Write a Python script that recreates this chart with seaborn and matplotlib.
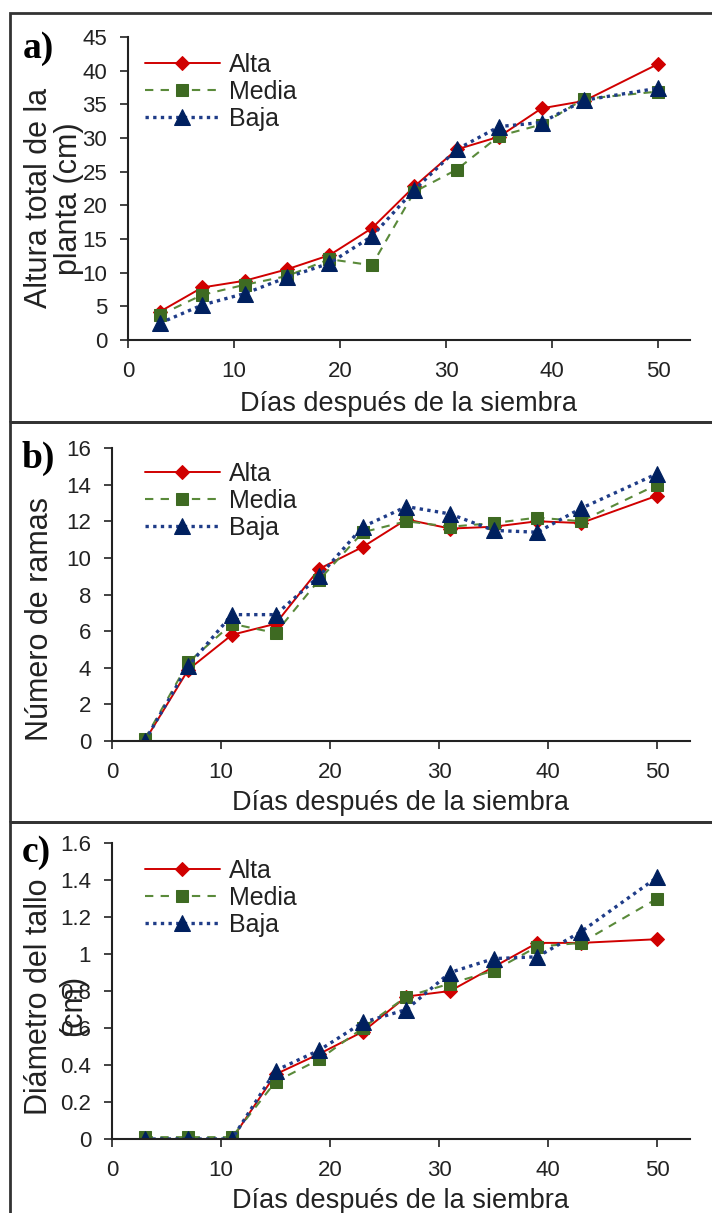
import matplotlib
matplotlib.use('Agg')
import matplotlib.pyplot as plt
import seaborn as sns
from matplotlib.patches import Rectangle
from matplotlib.ticker import FuncFormatter

# ---- data ----
dias = [3, 7, 11, 15, 19, 23, 27, 31, 35, 39, 43, 50]

# a) altura total de la planta (cm)
altura_alta = [4.2, 7.8, 8.8, 10.5, 12.6, 16.6, 22.8, 28.3, 30.2, 34.4, 35.5, 41.0]
altura_media = [3.7, 6.7, 8.2, 9.5, 12.0, 11.1, 22.0, 25.3, 30.3, 32.0, 35.8, 36.9]
altura_baja = [2.5, 5.2, 6.9, 9.3, 11.4, 15.4, 22.3, 28.3, 31.7, 32.3, 35.6, 37.4]

# b) numero de ramas
ramas_alta = [0.0, 3.9, 5.8, 6.4, 9.4, 10.6, 12.1, 11.6, 11.7, 12.0, 11.9, 13.4]
ramas_media = [0.1, 4.3, 6.4, 5.9, 8.8, 11.4, 12.0, 11.7, 11.9, 12.2, 12.0, 14.0]
ramas_baja = [0.0, 4.1, 6.9, 6.9, 9.0, 11.7, 12.8, 12.4, 11.5, 11.4, 12.7, 14.6]

# c) diametro del tallo (cm)
diam_alta = [0.0, 0.0, 0.0, 0.35, 0.46, 0.58, 0.77, 0.80, 0.93, 1.06, 1.06, 1.08]
diam_media = [0.01, 0.01, 0.01, 0.31, 0.43, 0.60, 0.77, 0.84, 0.91, 1.04, 1.06, 1.30]
diam_baja = [0.0, 0.0, 0.0, 0.37, 0.48, 0.63, 0.70, 0.90, 0.975, 0.985, 1.12, 1.415]

etiquetas = ['Alta', 'Media', 'Baja']
letras = ['a)', 'b)', 'c)']
# y labels are written line by line (the second line sits next to the tick labels)
ylabels = [['Altura total de la', 'planta (cm)'], ['Número de ramas'], ['Diámetro del tallo', '(cm)']]
xlabel = 'Días después de la siembra'
xticks = [0, 10, 20, 30, 40, 50]
yticks_a = [0, 5, 10, 15, 20, 25, 30, 35, 40, 45]
yticks_b = [0, 2, 4, 6, 8, 10, 12, 14, 16]
yticks_c = [0, 0.2, 0.4, 0.6, 0.8, 1.0, 1.2, 1.4, 1.6]

# ---- styles ----
sns.set_style('ticks')
narrow = ['Liberation Sans Narrow', 'Liberation Sans', 'DejaVu Sans']
plt.rcParams['font.family'] = ['Liberation Sans', 'DejaVu Sans']

estilos = {
  'Alta': dict(color='#D00000', marker='D', markersize=7.5, linestyle='-', linewidth=1.4,
               markerfacecolor='#D00000', markeredgecolor='#D00000'),
  'Media': dict(color='#5A8A3A', marker='s', markersize=8.5, linestyle=(0, (4, 3.5)), linewidth=1.5,
                markerfacecolor='#3E6A22', markeredgecolor='#3E6A22'),
  'Baja': dict(color='#1F3C88', marker='^', markersize=11, linestyle=(0, (1, 1.3)), linewidth=2.4,
               markerfacecolor='#00205F', markeredgecolor='#00205F'),
}

W, H = 712, 1213
fig = plt.figure(figsize=(W / 100, H / 100), dpi=100)

def frac(px_left, px_top, px_right, px_bottom):
  return [px_left / W, 1 - px_bottom / H, (px_right - px_left) / W, (px_bottom - px_top) / H]

paneles = [
  dict(box=frac(128, 37, 690, 340), datos=[altura_alta, altura_media, altura_baja], ylim=45,
       yticks=yticks_a, ylab_xy=[(39, 198), (69, 199)], letra_xy=(38, 48), xlab_y=-0.168, leg_y=0.948),
  dict(box=frac(112, 448, 690, 741), datos=[ramas_alta, ramas_media, ramas_baja], ylim=16,
       yticks=yticks_b, ylab_xy=[(40, 619)], letra_xy=(38, 458), xlab_y=-0.167, leg_y=0.953),
  dict(box=frac(112, 843, 690, 1139), datos=[diam_alta, diam_media, diam_baja], ylim=1.6,
       yticks=yticks_c, ylab_xy=[(39, 997), (73, 1005)], letra_xy=(36, 852), xlab_y=-0.164, leg_y=0.947),
]

# panel frames
for top, bottom in [(13, 422), (422, 822), (822, 1240)]:
  fig.add_artist(Rectangle((10 / W, 1 - bottom / H), 720 / W, (bottom - top) / H,
                           transform=fig.transFigure, fill=False, lw=2, ec='#333333', clip_on=False))

for i, p in enumerate(paneles):
  ax = fig.add_axes(p['box'])
  for nombre, vals in zip(etiquetas, p['datos']):
    sns.lineplot(x=dias, y=vals, ax=ax, label=nombre, **estilos[nombre])
  ax.set_xlim(0, 53)
  ax.set_ylim(0, p['ylim'])
  ax.set_xticks(xticks)
  ax.set_yticks(p['yticks'])
  ax.yaxis.set_major_formatter(FuncFormatter(lambda v, pos: '%g' % round(v, 2)))
  sns.despine(ax=ax)
  for s in ['left', 'bottom']:
    ax.spines[s].set_linewidth(1.5)
    ax.spines[s].set_color('#222222')
  ax.tick_params(direction='out', length=6, width=1.2, color='#222222', pad=9)
  for t in ax.get_xticklabels() + ax.get_yticklabels():
    t.set_family(narrow)
    t.set_fontsize(16)
    t.set_color('#222222')
  ax.set_xlabel(xlabel, fontsize=19.5, color='#222222')
  ax.xaxis.set_label_coords(0.5, p['xlab_y'])
  ax.set_ylabel('')
  for linea, (lx, ly) in zip(ylabels[i], p['ylab_xy']):
    fig.text(lx / W, 1 - ly / H, linea, rotation=90, ha='center', va='center',
             fontsize=22, color='#222222')
  fig.text(p['letra_xy'][0] / W, 1 - p['letra_xy'][1] / H, letras[i], ha='center', va='center',
           family=['Liberation Serif', 'DejaVu Serif'], fontweight='bold', fontsize=27, color='black')
  leg = ax.legend(loc='upper left', bbox_to_anchor=(0.03 if i == 0 else 0.057, p['leg_y']),
                  frameon=False, borderpad=0, borderaxespad=0, handlelength=3.0,
                  handletextpad=0.35, labelspacing=0.12, prop={'family': narrow, 'size': 18})
  for t in leg.get_texts():
    t.set_color('#222222')

fig.savefig('out.png', dpi=100)
